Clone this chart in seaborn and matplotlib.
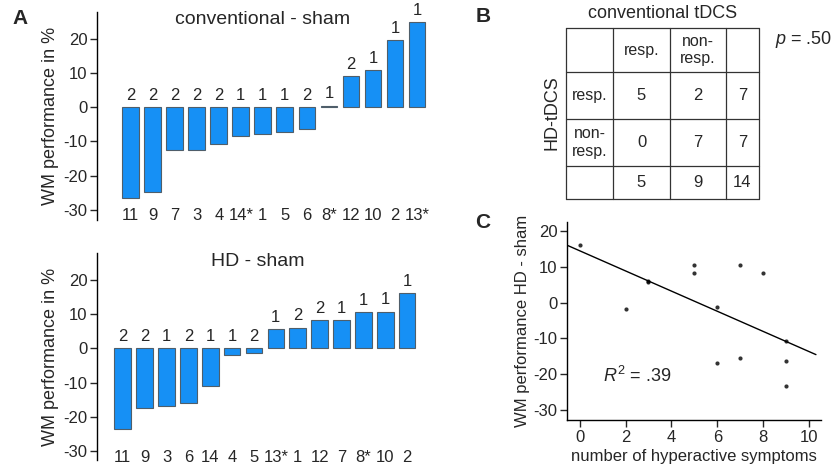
import numpy as np
import pandas as pd
import matplotlib
matplotlib.use("Agg")
import matplotlib.pyplot as plt
import seaborn as sns

# panel A, conventional - sham (sorted by effect)
conv_subj = ["11", "9", "7", "3", "4", "14*", "1", "5", "6", "8*", "12", "10", "2", "13*"]
conv_vals = [-26.6, -24.7, -12.5, -12.5, -10.9, -8.3, -7.9, -7.3, -6.5, 0.4, 9.1, 10.8, 19.6, 24.8]
conv_cnt = ["2", "2", "2", "2", "2", "1", "1", "1", "2", "1", "2", "1", "1", "1"]

# panel A, HD - sham
hd_subj = ["11", "9", "3", "6", "14", "4", "5", "13*", "1", "12", "7", "8*", "10", "2"]
hd_vals = [-23.6, -17.3, -16.7, -15.9, -10.9, -1.9, -1.4, 5.7, 6.1, 8.3, 8.3, 10.6, 10.7, 16.1]
hd_cnt = ["2", "2", "1", "2", "1", "1", "2", "1", "2", "2", "1", "1", "1", "1"]

# panel B, contingency table
col_heads = ["", "resp.", "non-\nresp.", ""]
row_heads = ["resp.", "non-\nresp.", ""]
table_vals = [["5", "2", "7"],
              ["0", "7", "7"],
              ["5", "9", "14"]]

# panel C, symptoms vs HD effect
symptoms = [0, 2, 3, 3, 5, 5, 6, 6, 7, 7, 8, 9, 9, 9]
hd_effect = [16.1, -1.7, 6.1, 5.8, 10.5, 8.3, -1.2, -16.8, 10.6, -15.6, 8.3, -10.8, -16.3, -23.2]

sns.set_style("white")
plt.rcParams["font.family"] = ["Liberation Sans", "DejaVu Sans"]
plt.rcParams["axes.unicode_minus"] = False
plt.rcParams["mathtext.fontset"] = "custom"
plt.rcParams["mathtext.rm"] = "Liberation Sans"
plt.rcParams["mathtext.it"] = "Liberation Sans:italic"

W, H = 834, 466
fig = plt.figure(figsize=(W / 100, H / 100), dpi=100)


def px_axes(left, top, right, bottom):
    return fig.add_axes([left / W, 1 - bottom / H, (right - left) / W, (bottom - top) / H])


bar_color = "#1690F5"
edge_color = "#4F5E6A"


def bar_panel(ax, subj, vals, cnt, title, xlim, ylim):
    df = pd.DataFrame({"subj": subj, "val": vals})
    sns.barplot(data=df, x="subj", y="val", color=bar_color, edgecolor=edge_color,
                linewidth=0.8, width=0.76, saturation=1, ax=ax)
    for i, (v, c) in enumerate(zip(vals, cnt)):
        ax.text(i, max(v, 0) + 1.3, c, ha="center", va="bottom", fontsize=12)
        ax.text(i, -31.8, subj[i], ha="center", va="center", fontsize=12)
    ax.set_xlim(*xlim)
    ax.set_ylim(*ylim)
    ax.set_yticks([-30, -20, -10, 0, 10, 20])
    ax.tick_params(axis="y", direction="out", length=5, width=1, left=True, labelsize=12, pad=2)
    ax.set_xticks([])
    ax.set_xlabel("")
    ax.set_ylabel("WM performance in %", fontsize=13, labelpad=3)
    for s in ["top", "right", "bottom"]:
        ax.spines[s].set_visible(False)
    ax.spines["left"].set_color("black")
    ax.spines["left"].set_linewidth(1)
    ax.set_title(title, fontsize=14, pad=-9, y=1.0)


ax1 = px_axes(97, 12, 428, 220)
bar_panel(ax1, conv_subj, conv_vals, conv_cnt, "conventional - sham", (-1.53, 13.5), (-33, 27.8))
ax2 = px_axes(97, 253, 418, 460)
bar_panel(ax2, hd_subj, hd_vals, hd_cnt, "HD - sham", (-1.18, 13.5), (-32.6, 27.9))

# panel B table
axb = px_axes(440, 0, 834, 210)
axb.set_xlim(440, 834)
axb.set_ylim(210, 0)
axb.axis("off")
xs = [566, 613, 670, 726, 759]
ys = [28, 72, 119, 166, 199]
for x in xs:
    axb.plot([x, x], [ys[0], ys[-1]], color="#333333", lw=0.9)
for y in ys:
    axb.plot([xs[0], xs[-1]], [y, y], color="#333333", lw=0.9)
for j, t in enumerate(col_heads):
    axb.text((xs[j] + xs[j + 1]) / 2, (ys[0] + ys[1]) / 2, t, ha="center", va="center",
             fontsize=11.5, linespacing=1.2)
for i, t in enumerate(row_heads):
    cy = (ys[i + 1] + ys[i + 2]) / 2
    axb.text((xs[0] + xs[1]) / 2, cy, t, ha="center", va="center", fontsize=11.5, linespacing=1.2)
    for j, v in enumerate(table_vals[i]):
        axb.text((xs[j + 1] + xs[j + 2]) / 2, cy, v, ha="center", va="center", fontsize=12)
axb.text(663, 14, "conventional tDCS", ha="center", va="center", fontsize=13)
axb.text(552, 113, "HD-tDCS", ha="center", va="center", rotation=90, fontsize=13)
axb.text(775, 39, "$p$ = .50", ha="left", va="center", fontsize=13)

# panel C scatter
axc = px_axes(567, 222, 821, 420)
axc.set_xlim(-0.55, 10.3)
sns.regplot(x=symptoms, y=hd_effect, ci=None, truncate=False, ax=axc,
            scatter_kws={"s": 9, "color": "black", "linewidths": 0},
            line_kws={"color": "black", "lw": 1})
axc.set_xlim(-0.55, 10.52)
axc.set_ylim(-32.8, 22.5)
axc.set_xticks([0, 2, 4, 6, 8, 10])
axc.set_yticks([-30, -20, -10, 0, 10, 20])
axc.tick_params(direction="out", length=5, width=1, left=True, bottom=True, labelsize=12, pad=2)
for s in ["top", "right"]:
    axc.spines[s].set_visible(False)
for s in ["left", "bottom"]:
    axc.spines[s].set_color("black")
    axc.spines[s].set_linewidth(1)
axc.set_xlabel("number of hyperactive symptoms", fontsize=12, labelpad=3)
axc.set_ylabel("WM performance HD - sham", fontsize=12, labelpad=2)
axc.text(1.0, -20.5, "$R^2$ = .39", ha="left", va="center", fontsize=13)

# panel letters
for letter, x, y in [("A", 20, 18), ("B", 483, 17), ("C", 483, 223)]:
    fig.text(x / W, 1 - y / H, letter, ha="center", va="center", fontsize=15, fontweight="bold")

fig.savefig("out.png", dpi=100)
